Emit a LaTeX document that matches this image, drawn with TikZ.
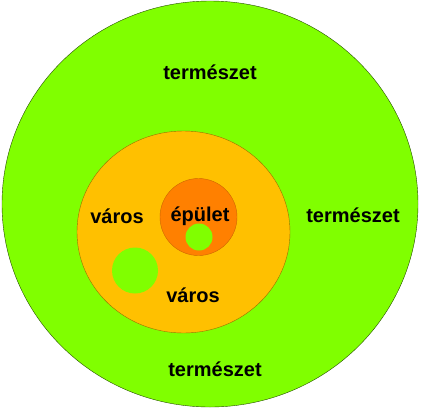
\documentclass[tikz,border=0pt]{standalone}
\usepackage{fontspec}
\setmainfont{Liberation Sans}
\definecolor{zold}{RGB}{128,255,0}
\definecolor{sarga}{RGB}{255,192,0}
\definecolor{narancs}{RGB}{255,128,0}
\tikzset{felirat/.style={font=\fontsize{20}{24}\selectfont\bfseries,text=black}}
\begin{document}
\begin{tikzpicture}[x=1pt,y=-1pt,thin]
\useasboundingbox(0,0)rectangle(423,408);
\draw[fill=zold,draw=black!70!zold](210,204)ellipse[x radius=208,y radius=203];
\draw[fill=sarga,draw=black!40!sarga](183.5,232)ellipse[x radius=106.5,y radius=101];
\draw[fill=narancs,draw=black!20!narancs](198.5,217)circle[radius=38.5];
\fill[zold](199,237)circle[radius=13.5];
\fill[zold](135,270.5)circle[radius=23];
\node[felirat](termfent)at(210,72){természet};
\node[felirat](termjobb)at(353,215){természet};
\node[felirat](termlent)at(215,369){természet};
\node[felirat](varosbal)at(117,216){város};
\node[felirat](epulet)at(200,216){épület};
\node[felirat](varoslent)at(193,295){város};
\end{tikzpicture}
\end{document}
